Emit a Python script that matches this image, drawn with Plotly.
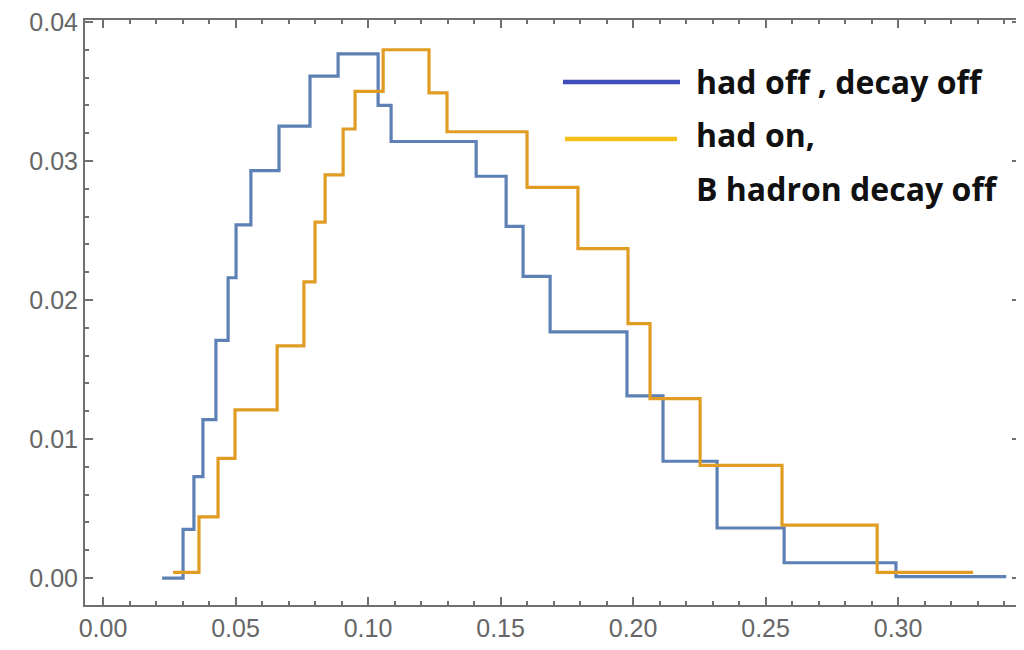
import plotly.graph_objects as go

# ---- data ----
blue_edges = [0.0223, 0.0302, 0.0343, 0.0377, 0.0426, 0.0472, 0.0502, 0.0558, 0.0664,
              0.0781, 0.0887, 0.1038, 0.1087, 0.1408, 0.1521, 0.1585, 0.1687, 0.1977,
              0.2113, 0.2317, 0.2570, 0.2992, 0.3408]
blue_values = [0.0, 0.0035, 0.0073, 0.0114, 0.0171, 0.0216, 0.0254, 0.0293, 0.0325,
               0.0361, 0.0377, 0.0340, 0.0314, 0.0289, 0.0253, 0.0217, 0.0177, 0.0131,
               0.0084, 0.0036, 0.0011, 0.0001]

orange_edges = [0.0264, 0.0362, 0.0434, 0.0498, 0.0657, 0.0758, 0.0800, 0.0838, 0.0906,
                0.0951, 0.1057, 0.1230, 0.1298, 0.1600, 0.1792, 0.1981, 0.2064, 0.2253,
                0.2562, 0.2921, 0.3283]
orange_values = [0.0004, 0.0044, 0.0086, 0.0121, 0.0167, 0.0213, 0.0256, 0.0290, 0.0323,
                 0.0350, 0.0380, 0.0349, 0.0321, 0.0281, 0.0237, 0.0183, 0.0129, 0.0081,
                 0.0038, 0.0004]

legend_lines = ["had off , decay off", "had on,", "B hadron decay off"]

blue_color = "rgb(94,129,181)"
orange_color = "rgb(225,156,36)"
legend_blue = "rgb(63,76,186)"
legend_yellow = "rgb(244,192,22)"

# page geometry (the HTML body has an 8px default margin)
PAGE_W, PAGE_H = 1024, 650
OFF = 8
L, R, T, B = 85, 1020, 20, 605


def px(x):
    return (x - L) / (R - L)


def py(y):
    return (B - y) / (B - T)


fig = go.Figure()
fig.add_trace(go.Scatter(x=blue_edges, y=blue_values + [blue_values[-1]],
                         mode="lines", line=dict(shape="hv", color=blue_color, width=3.2),
                         showlegend=False))
fig.add_trace(go.Scatter(x=orange_edges, y=orange_values + [orange_values[-1]],
                         mode="lines", line=dict(shape="hv", color=orange_color, width=3.2),
                         showlegend=False))

# hand-drawn style legend
fig.add_shape(type="line", xref="paper", yref="paper", x0=px(563), x1=px(680),
              y0=py(82), y1=py(82), line=dict(color=legend_blue, width=4.5))
fig.add_shape(type="line", xref="paper", yref="paper", x0=px(565), x1=px(677),
              y0=py(139), y1=py(139), line=dict(color=legend_yellow, width=4.5))
for text, yy in zip(legend_lines, [82, 135, 189]):
    fig.add_annotation(xref="paper", yref="paper", x=px(694), y=py(yy), text="<b>" + text + "</b>",
                       showarrow=False, xanchor="left", yanchor="middle", align="left",
                       font=dict(family="Open Sans", size=32, color="#111"))

axis_common = dict(showgrid=False, zeroline=False, showline=True, linecolor="#707070", linewidth=2,
                   mirror="allticks", ticks="inside", ticklen=8, tickwidth=1.5, tickcolor="#707070",
                   tickfont=dict(family="Liberation Sans", size=25, color="#666666"),
                   tickformat=".2f", automargin=False, ticklabeloverflow="allow")

fig.update_xaxes(range=[-0.0068, 0.3460], dtick=0.05, tick0=0,
                 minor=dict(dtick=0.01, ticklen=4, tickcolor="#707070", ticks="inside"),
                 **axis_common)
fig.update_yaxes(range=[-0.00194, 0.04014], dtick=0.01, tick0=0,
                 minor=dict(dtick=0.002, ticklen=4, tickcolor="#707070", ticks="inside"),
                 **axis_common)

W, H = PAGE_W - OFF, PAGE_H - OFF
fig.update_layout(width=W, height=H,
                  margin=dict(l=L - OFF, r=W - (R - OFF), t=T - OFF, b=H - (B - OFF)),
                  plot_bgcolor="white", paper_bgcolor="white")

fig.write_html("out.html")
